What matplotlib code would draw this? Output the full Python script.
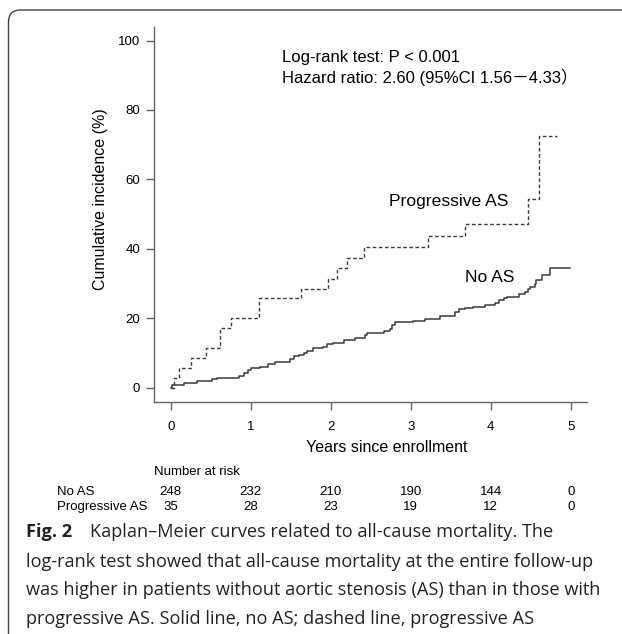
import matplotlib
matplotlib.use("Agg")
import matplotlib.pyplot as plt
import matplotlib.transforms as mtransforms
from matplotlib.patches import FancyBboxPatch

plt.rcParams['font.family'] = ['Liberation Sans', 'Noto Sans CJK SC', 'DejaVu Sans']

# Kaplan-Meier step curves (years, cumulative incidence %)
prog_t = [0, 0.04, 0.104, 0.25, 0.44, 0.62, 0.75, 1.10, 1.63, 1.96, 2.08, 2.20,
          2.42, 3.22, 3.68, 4.46, 4.60, 4.83]
prog_v = [0, 2.7, 5.8, 8.5, 11.4, 17.1, 20.1, 25.7, 28.4, 31.3, 34.4, 37.3,
          40.5, 43.7, 47.1, 54.4, 72.5, 72.5]

noas_t = [0, 0.02, 0.17, 0.33, 0.51, 0.58, 0.85, 0.91, 0.96, 1.0, 1.12, 1.22, 1.30,
          1.49, 1.54, 1.60, 1.67, 1.70, 1.78, 1.90, 1.95, 2.03, 2.16, 2.30, 2.43, 2.45,
          2.66, 2.74, 2.77, 2.80, 3.03, 3.18, 3.37, 3.55, 3.60, 3.68, 3.78, 3.93,
          4.05, 4.10, 4.16, 4.20, 4.35, 4.43, 4.46, 4.49, 4.55, 4.57, 4.64, 4.74, 4.99]
noas_v = [0, 0.7, 1.3, 1.9, 2.4, 2.9, 3.4, 4.1, 5.1, 5.6, 6.05, 6.8, 7.3,
          8.2, 9.0, 9.4, 10.1, 10.7, 11.35, 11.8, 12.5, 13.0, 13.75, 14.2, 15.2, 15.8,
          16.3, 16.8, 18.0, 19.0, 19.3, 19.8, 20.7, 21.9, 22.6, 23.1, 23.35, 23.8,
          24.5, 25.3, 25.8, 26.2, 26.9, 27.7, 28.4, 29.1, 29.9, 31.0, 32.4, 34.4, 34.4]

# number at risk table
risk_years = [0, 1, 2, 3, 4, 5]
noas_risk = [248, 232, 210, 190, 144, 0]
prog_risk = [35, 28, 23, 19, 12, 0]

y_ticks = [0, 20, 40, 60, 80, 100]

caption = [
    "log-rank test showed that all-cause mortality at the entire follow-up",
    "was higher in patients without aortic stenosis (AS) than in those with",
    "progressive AS. Solid line, no AS; dashed line, progressive AS",
]

W, H = 622, 634
fig = plt.figure(figsize=(W / 100, H / 100), dpi=100)


def fx(px):
    return px / W


def fy(py):
    return 1 - py / H


ax = fig.add_axes([fx(154), fy(401.7), fx(586.7) - fx(154), fy(27) - fy(401.7)])

line_col = '#3a3a3a'
ax.step(noas_t, noas_v, where='post', color=line_col, lw=1.1)
ax.step(prog_t, prog_v, where='post', color=line_col, lw=1.0,
        linestyle=(0, (2.6, 1.8)))

ax.set_xlim(-0.209, 5.2)
ax.set_ylim(-4.03, 103.9)
ax.set_xticks(risk_years)
ax.set_yticks(y_ticks)

for s in ['top', 'right']:
    ax.spines[s].set_visible(False)
for s in ['left', 'bottom']:
    ax.spines[s].set_color('#666666')
    ax.spines[s].set_linewidth(1.0)
ax.tick_params(axis='both', colors='#666666', labelcolor='black', labelsize=9.5,
               length=6, width=1.0)
ax.tick_params(axis='x', pad=8)
ax.tick_params(axis='y', pad=4)

ax.text(1.39, 95.2, "Log-rank test: P < 0.001", fontsize=12, va='center')
ax.text(1.39, 89.5, "Hazard ratio: 2.60 (95%CI 1.56－4.33）", fontsize=12, va='center')
ax.text(2.73, 53.6, "Progressive AS", fontsize=12.6, va='center')
ax.text(3.68, 31.7, "No AS", fontsize=12.6, va='center')

fig.text(fx(101), fy(199), "Cumulative incidence (%)", rotation=90,
         ha='center', va='center', fontsize=11.5)
fig.text(fx(386.5), fy(447.3), "Years since enrollment", ha='center', va='center',
         fontsize=11.5)

# number at risk
risk_size = 9.5
fig.text(fx(154), fy(472), "Number at risk", va='center', fontsize=risk_size)
fig.text(fx(56.7), fy(492), "No AS", va='center', fontsize=risk_size)
fig.text(fx(56.7), fy(507.3), "Progressive AS", va='center', fontsize=risk_size)
trans = mtransforms.blended_transform_factory(ax.transData, fig.transFigure)
for yr, a, b in zip(risk_years, noas_risk, prog_risk):
    ax.text(yr, fy(492), str(a), transform=trans, ha='center', va='center',
            fontsize=risk_size, clip_on=False)
    ax.text(yr, fy(507.3), str(b), transform=trans, ha='center', va='center',
            fontsize=risk_size, clip_on=False)

# caption
cap_font = 'Open Sans'
cap_size = 13.1
fig.text(fx(26), fy(531.7), "Fig. 2", fontweight='bold', family=cap_font,
         fontsize=cap_size, va='center', color='#222222')
fig.text(fx(90), fy(531.7), "Kaplan–Meier curves related to all-cause mortality. The",
         family=cap_font, fontsize=cap_size, va='center', color='#222222')
for i, line in enumerate(caption):
    fig.text(fx(26), fy(561.7 + 28.7 * i), line, family=cap_font, fontsize=cap_size,
             va='center', color='#222222')

# rounded frame around the figure panel
frame = FancyBboxPatch((fx(8.5), -0.1), 1.2, fy(10) + 0.1,
                       boxstyle="round,pad=0,rounding_size=0.019",
                       transform=fig.transFigure, fill=False,
                       edgecolor='#444444', lw=1.0, clip_on=False)
fig.patches.append(frame)

fig.savefig("out.png", dpi=100)
